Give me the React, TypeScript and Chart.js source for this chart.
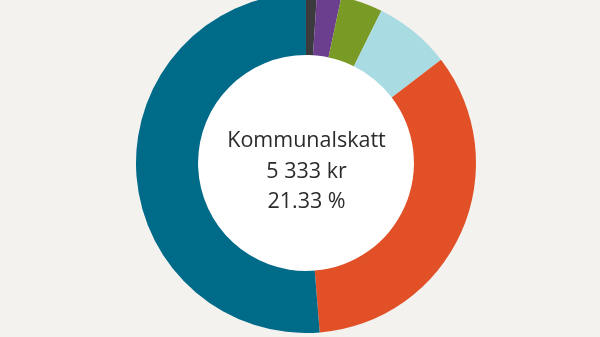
import React, { useEffect, useRef } from "react";
import { Chart, registerables } from "chart.js";

Chart.register(...registerables);

const categories = ["Grå", "Lila", "Grön", "Ljusblå", "Orange", "Blå"];
const values = [55, 123, 212, 389, 1819, 2735];
const colors = ["#3b3b3d", "#6b3e8e", "#7a9a26", "#a9dbe3", "#e15026", "#006a89"];
const centerLines = ["Kommunalskatt", "5 333 kr", "21.33 %"];

const centerPlugin = {
  id: "centerWhite",
  beforeDatasetsDraw(chart: any) {
    const meta = chart.getDatasetMeta(0);
    const arc = meta.data[0];
    if (!arc) return;
    const { x, y, innerRadius } = arc.getProps(["x", "y", "innerRadius"], true);
    const ctx = chart.ctx;
    ctx.save();
    ctx.beginPath();
    ctx.arc(x, y, innerRadius + 0.5, 0, Math.PI * 2);
    ctx.fillStyle = "#ffffff";
    ctx.fill();
    ctx.restore();
  },
  afterDatasetsDraw(chart: any) {
    const meta = chart.getDatasetMeta(0);
    const arc = meta.data[0];
    if (!arc) return;
    const { x, y } = arc.getProps(["x", "y"], true);
    const ctx = chart.ctx;
    ctx.save();
    ctx.fillStyle = "#2b2b2b";
    ctx.font = '21.5px "Open Sans", sans-serif';
    ctx.textAlign = "center";
    ctx.textBaseline = "alphabetic";
    const offsets = [-16, 15, 45];
    centerLines.forEach((t, i) => ctx.fillText(t, x + 0.5, y + offsets[i]));
    ctx.restore();
  },
};

export default function App() {
  const ref = useRef<HTMLCanvasElement>(null);
  useEffect(() => {
    document.body.style.margin = "0";
    document.body.style.overflow = "hidden";
    document.body.style.background = "#f3f2ef";
    const chart = new Chart(ref.current!, {
      type: "doughnut",
      data: {
        labels: categories,
        datasets: [
          {
            data: values,
            backgroundColor: colors,
            borderWidth: 0,
          },
        ],
      },
      options: {
        animation: false,
        responsive: false,
        cutout: "63.5%",
        layout: { padding: 0 },
        plugins: {
          legend: { display: false },
          tooltip: { enabled: false },
        },
      },
      plugins: [centerPlugin],
    });
    return () => chart.destroy();
  }, []);
  return (
    <div style={{ position: "relative", width: 600, height: 337, overflow: "hidden", background: "#f3f2ef" }}>
      <canvas
        ref={ref}
        width={612}
        height={340}
        style={{ position: "absolute", left: 0, top: -7, width: 612, height: 340 }}
      />
    </div>
  );
}
